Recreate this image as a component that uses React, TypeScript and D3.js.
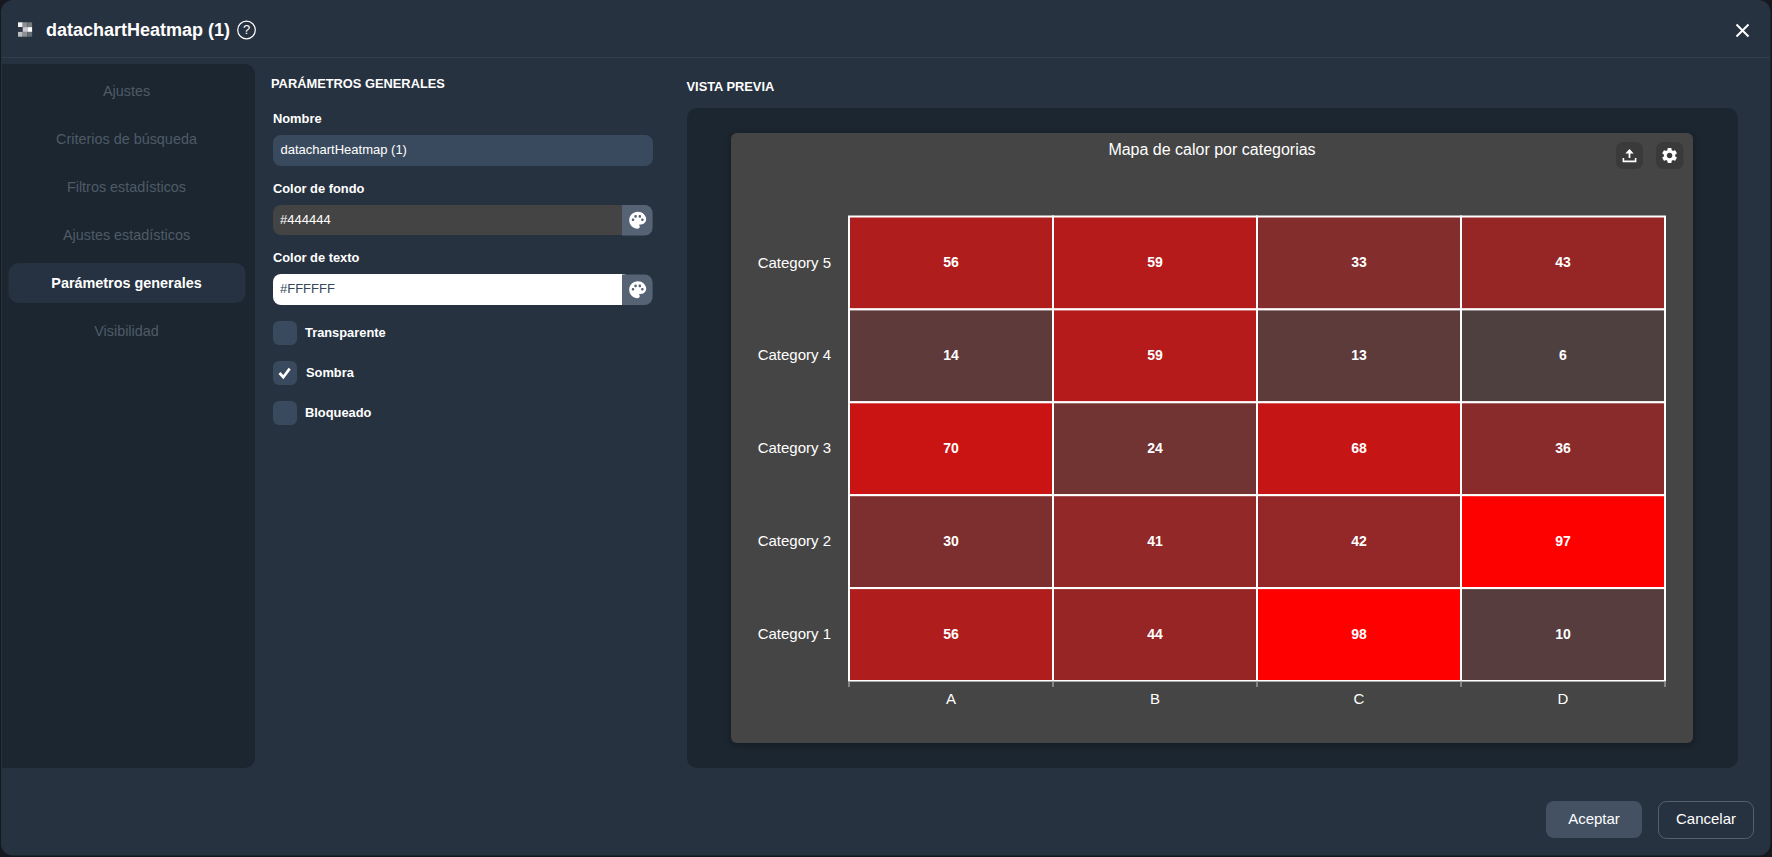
import * as d3 from "d3";
import {useEffect, useRef} from "react";

const xCategories = ["A", "B", "C", "D"];
const yCategories = ["Category 5", "Category 4", "Category 3", "Category 2", "Category 1"];
const rowValues = [
  [56, 59, 33, 43],
  [14, 59, 13, 6],
  [70, 24, 68, 36],
  [30, 41, 42, 97],
  [56, 44, 98, 10],
];
const menuItems = ["Ajustes", "Criterios de búsqueda", "Filtros estadísticos", "Ajustes estadísticos", "Parámetros generales", "Visibilidad"];
const checkLabels = ["Transparente", "Sombra", "Bloqueado"];
const checkStates = [false, true, false];
const iconShades = ["#f4f4f4", "#8b8f94", "#74797f", "#2c3644", "#c9cbce", "#ffffff", "#b9bcc0", "#8b8f94", "#666c73"];

const FONT = "'Liberation Sans', Arial, sans-serif";
const gearPath = "M19.14 12.94c.04-.3.06-.61.06-.94 0-.32-.02-.64-.07-.94l2.03-1.58c.18-.14.23-.41.12-.61l-1.92-3.32c-.12-.22-.37-.29-.59-.22l-2.39.96c-.5-.38-1.03-.7-1.62-.94l-.36-2.54c-.04-.24-.24-.41-.48-.41h-3.84c-.24 0-.43.17-.47.41l-.36 2.54c-.59.24-1.13.57-1.62.94l-2.39-.96c-.22-.08-.47 0-.59.22L2.74 8.87c-.12.21-.08.47.12.61l2.03 1.58c-.05.3-.09.63-.09.94s.02.64.07.94l-2.03 1.58c-.18.14-.23.41-.12.61l1.92 3.32c.12.22.37.29.59.22l2.39-.96c.5.38 1.03.7 1.62.94l.36 2.54c.05.24.24.41.48.41h3.84c.24 0 .44-.17.47-.41l.36-2.54c.59-.24 1.13-.56 1.62-.94l2.39.96c.22.08.47 0 .59-.22l1.92-3.32c.12-.22.07-.47-.12-.61l-2.01-1.58zM12 15.6c-1.98 0-3.6-1.62-3.6-3.6s1.62-3.6 3.6-3.6 3.6 1.62 3.6 3.6-1.62 3.6-3.6 3.6z";
const palettePath = "M12 2C6.49 2 2 6.49 2 12s4.49 10 10 10c1.38 0 2.5-1.12 2.5-2.5 0-.61-.23-1.2-.64-1.67-.08-.1-.13-.21-.13-.33 0-.28.22-.5.5-.5H16c3.31 0 6-2.69 6-6 0-4.96-4.49-9-10-9zm5.5 11c-.83 0-1.5-.67-1.5-1.5s.67-1.5 1.5-1.5 1.5.67 1.5 1.5-.67 1.5-1.5 1.5zm-3-4c-.83 0-1.5-.67-1.5-1.5S13.67 6 14.5 6s1.5.67 1.5 1.5S15.33 9 14.5 9zM5 11.5c0-.83.67-1.5 1.5-1.5s1.5.67 1.5 1.5S7.33 13 6.5 13 5 12.33 5 11.5zm6-4c0 .83-.67 1.5-1.5 1.5S8 8.33 8 7.5 8.67 6 9.5 6s1.5.67 1.5 1.5z";

const plot = {left: 849, right: 1665, top: 216.5, bottom: 681};

function Label(props: {x: number; y: number; size: number; fill?: string; bold?: boolean; anchor?: string; children: any}) {
  return (
    <text x={props.x} y={props.y - 0.7} dy="0.35em" fontSize={props.size} fontFamily={FONT} fill={props.fill ?? "#ffffff"}
      fontWeight={props.bold ? 700 : 400} textAnchor={props.anchor ?? "start"}>{props.children}</text>
  );
}

function Palette({x, y}: {x: number; y: number}) {
  return (
    <g>
      <path d="M0 0h22.6a8 8 0 0 1 8 8v14.5a8 8 0 0 1-8 8H0z" transform={`translate(${x},${y})`} fill="#556375" />
      <path d={palettePath} transform={`translate(${x + 5.5},${y + 5}) scale(0.85)`} fill="#ffffff" />
    </g>
  );
}

export default function App() {
  const axisRef = useRef<SVGGElement | null>(null);

  const x = d3.scaleBand<string>().domain(xCategories).range([plot.left, plot.right]);
  const y = d3.scaleBand<string>().domain(yCategories).range([plot.top, plot.bottom]);
  const color = d3.scaleLinear<string>().domain([0, 98]).range(["#444444", "#ff0000"]).clamp(true);

  useEffect(() => {
    const axis = d3.select(axisRef.current);
    axis.selectAll("*").remove();
    axis.call(d3.axisBottom(x).tickSize(0).tickPadding(12) as any);
    axis.select(".domain").attr("stroke", "#aaaaaa").attr("stroke-width", 1);
    axis.selectAll("text").attr("font-size", 15).attr("font-family", FONT).attr("fill", "#ffffff");
    // ticks sit on the band edges, not the centres
    const edges = [...xCategories.map(c => x(c) as number), plot.right];
    axis.selectAll("line.edge").data(edges).enter().append("line")
        .attr("class", "edge")
        .attr("x1", d => d).attr("x2", d => d)
        .attr("y1", 0).attr("y2", 6)
        .attr("stroke", "#999999").attr("stroke-width", 1.5);
  }, []);

  return (
    <svg width={1772} height={857} style={{position: "fixed", left: 0, top: 0, display: "block"}}>
      <defs>
        <filter id="cardShadow" x="-5%" y="-5%" width="110%" height="110%">
          <feDropShadow dx="0" dy="2" stdDeviation="4" floodColor="#000000" floodOpacity="0.3" />
        </filter>
      </defs>
      <rect width={1772} height={857} fill="#15191f" />
      <rect x={1} y={0} width={1769.5} height={855.5} rx={12} fill="#273240" />
      <line x1={2} x2={1770} y1={57.5} y2={57.5} stroke="#323e4d" />

      {iconShades.map((c, i) => (
        <rect key={i} x={18 + (i % 3) * 4.7} y={22.3 + Math.floor(i / 3) * 4.8} width={4.7} height={4.8} fill={c} />
      ))}
      <Label x={46} y={30} size={18} bold>datachartHeatmap (1)</Label>
      <circle cx={246.5} cy={30} r={8.8} fill="none" stroke="#ffffff" strokeWidth={1.2} />
      <Label x={246.5} y={30.5} size={13} anchor="middle">?</Label>
      <path d="M1736.5 24.5l12 12M1748.5 24.5l-12 12" stroke="#ffffff" strokeWidth={2} />

      <path d="M2 64H245a10 10 0 0 1 10 10V758a10 10 0 0 1-10 10H2z" fill="#1c2630" />
      <rect x={8.5} y={263} width={237} height={40} rx={10} fill="#263241" />
      {menuItems.map((m, i) => (
        <Label key={m} x={126.5} y={91.7 + i * 48} size={14.4} anchor="middle" fill={i === 4 ? "#ffffff" : "#4e5b67"} bold={i === 4}>{m}</Label>
      ))}

      <Label x={271} y={84.7} size={12.85} bold>PARÁMETROS GENERALES</Label>
      <Label x={273} y={119} size={12.85} bold>Nombre</Label>
      <rect x={273} y={135} width={380} height={31} rx={8} fill="#3a4a5e" />
      <Label x={280.5} y={150.5} size={13}>datachartHeatmap (1)</Label>

      <Label x={273} y={189.5} size={12.85} bold>Color de fondo</Label>
      <rect x={273} y={205} width={357} height={30} rx={8} fill="#444444" />
      <Palette x={622} y={205} />
      <Label x={280} y={220} size={13}>#444444</Label>

      <Label x={273} y={258.5} size={12.85} bold>Color de texto</Label>
      <rect x={273} y={274} width={357} height={31} rx={8} fill="#ffffff" />
      <Palette x={622} y={274.5} />
      <Label x={280} y={289.5} size={13} fill="#34465a">#FFFFFF</Label>

      {checkLabels.map((c, i) => (
        <g key={c}>
          <rect x={273} y={321 + i * 40} width={24} height={24} rx={6} fill="#3a4a5e" />
          {checkStates[i] && <path d={`M279.5 ${333 + i * 40}l3.8 4.2 6.4-8.6`} fill="none" stroke="#ffffff" strokeWidth={2.7} />}
          <Label x={i === 1 ? 306 : 305} y={333 + i * 40} size={12.85} bold>{c}</Label>
        </g>
      ))}

      <Label x={686.5} y={87.7} size={12.85} bold>VISTA PREVIA</Label>
      <rect x={687} y={108} width={1051} height={660} rx={10} fill="#1c2630" />
      <rect x={731} y={133} width={962} height={610} rx={6} fill="#444444" filter="url(#cardShadow)" />
      <Label x={1212} y={149.7} size={16} anchor="middle">Mapa de calor por categorias</Label>

      <rect x={1616} y={142} width={27} height={27} rx={7} fill="#3a3a3a" />
      <path d="M1629.5 150.5v7.5" fill="none" stroke="#ffffff" strokeWidth={1.8} />
      <path d="M1629.5 149l-4.2 4.4h8.4z" fill="#ffffff" />
      <path d="M1623.4 158v3.4h12.2V158" fill="none" stroke="#ffffff" strokeWidth={1.6} />
      <rect x={1656} y={142} width={27.5} height={27} rx={7} fill="#3a3a3a" />
      <path d={gearPath} transform="translate(1660.2,146.1) scale(0.78)" fill="#ffffff" />

      {yCategories.map(c => (
        <Label key={c} x={831} y={(y(c) as number) + y.bandwidth() / 2} size={15} anchor="end">{c}</Label>
      ))}
      {yCategories.map((rowName, r) => xCategories.map((colName, c) => (
        <g key={rowName + colName}>
          <rect x={x(colName)} y={y(rowName)} width={x.bandwidth()} height={y.bandwidth()}
            fill={color(rowValues[r][c])} stroke="#ffffff" strokeWidth={2} />
          <Label x={(x(colName) as number) + x.bandwidth() / 2} y={(y(rowName) as number) + y.bandwidth() / 2} size={14} anchor="middle" bold>
            {rowValues[r][c]}
          </Label>
        </g>
      )))}
      <g ref={axisRef} transform={`translate(0,${plot.bottom})`} />

      <rect x={1546} y={801} width={96} height={37} rx={8} fill="#445163" />
      <Label x={1594} y={819.5} size={15} anchor="middle">Aceptar</Label>
      <rect x={1658.5} y={801.5} width={95} height={37} rx={8} fill="none" stroke="#556070" />
      <Label x={1706} y={819.5} size={15} anchor="middle">Cancelar</Label>
    </svg>
  );
}
